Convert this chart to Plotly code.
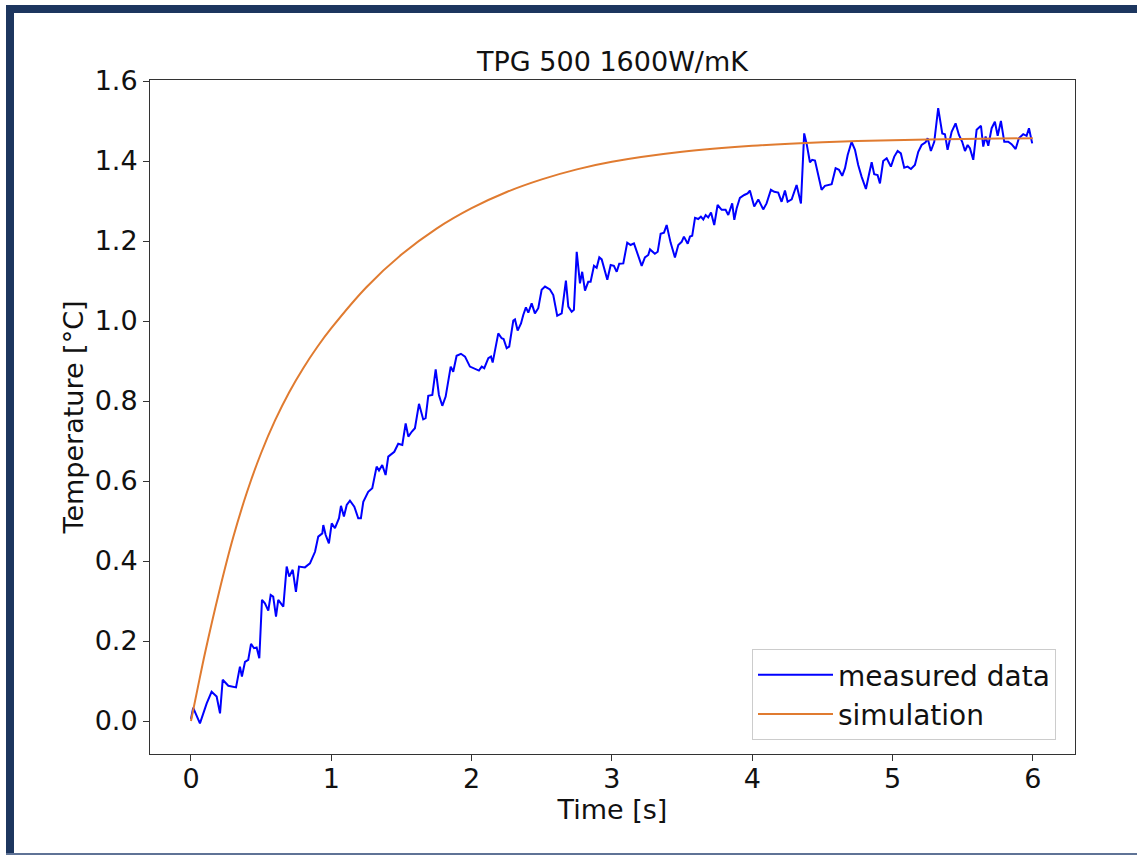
import plotly.graph_objects as go

meas_t = [0.0, 0.016, 0.064, 0.112, 0.147, 0.183, 0.207, 0.226, 0.266, 0.321, 0.349, 0.363, 0.385, 0.408,
          0.428, 0.449, 0.468, 0.487, 0.506, 0.527, 0.551, 0.568, 0.586, 0.606, 0.622, 0.658, 0.682, 0.700,
          0.725, 0.748, 0.770, 0.812, 0.848, 0.884, 0.907, 0.936, 0.943, 0.960, 0.983, 1.003, 1.026, 1.055,
          1.069, 1.090, 1.110, 1.133, 1.164, 1.192, 1.211, 1.228, 1.263, 1.292, 1.323, 1.340, 1.363, 1.387,
          1.406, 1.449, 1.477, 1.506, 1.530, 1.549, 1.573, 1.596, 1.625, 1.655, 1.672, 1.691, 1.720, 1.744,
          1.767, 1.791, 1.815, 1.851, 1.869, 1.893, 1.924, 1.953, 1.988, 2.019, 2.052, 2.072, 2.090, 2.119,
          2.138, 2.150, 2.190, 2.214, 2.228, 2.250, 2.268, 2.297, 2.309, 2.328, 2.352, 2.368, 2.387, 2.404,
          2.428, 2.451, 2.475, 2.499, 2.523, 2.558, 2.582, 2.610, 2.642, 2.672, 2.689, 2.713, 2.729, 2.749,
          2.772, 2.788, 2.808, 2.831, 2.848, 2.872, 2.891, 2.910, 2.927, 2.967, 2.991, 3.014, 3.034, 3.052,
          3.081, 3.109, 3.133, 3.157, 3.180, 3.212, 3.235, 3.259, 3.271, 3.306, 3.326, 3.347, 3.371, 3.390,
          3.418, 3.449, 3.473, 3.497, 3.513, 3.540, 3.556, 3.572, 3.592, 3.615, 3.634, 3.651, 3.668, 3.686,
          3.706, 3.729, 3.753, 3.782, 3.810, 3.829, 3.857, 3.872, 3.889, 3.912, 3.943, 3.967, 3.983, 4.014,
          4.043, 4.062, 4.078, 4.102, 4.133, 4.157, 4.185, 4.209, 4.233, 4.252, 4.281, 4.316, 4.347, 4.370,
          4.387, 4.411, 4.427, 4.447, 4.470, 4.494, 4.518, 4.546, 4.566, 4.594, 4.618, 4.641, 4.661, 4.680,
          4.708, 4.732, 4.755, 4.779, 4.810, 4.831, 4.851, 4.869, 4.893, 4.910, 4.933, 4.958, 4.988, 5.012,
          5.036, 5.059, 5.083, 5.107, 5.131, 5.159, 5.183, 5.207, 5.235, 5.250, 5.273, 5.297, 5.325, 5.354,
          5.373, 5.392, 5.421, 5.449, 5.473, 5.496, 5.516, 5.535, 5.551, 5.575, 5.599, 5.630, 5.646, 5.663,
          5.682, 5.706, 5.729, 5.749, 5.772, 5.796, 5.824, 5.848, 5.877, 5.900, 5.931, 5.955, 5.972, 5.995]
meas_T = [0.005, 0.033, -0.006, 0.044, 0.073, 0.061, 0.019, 0.103, 0.088, 0.084, 0.136, 0.111, 0.148, 0.153,
          0.193, 0.182, 0.184, 0.157, 0.303, 0.294, 0.276, 0.315, 0.311, 0.261, 0.303, 0.286, 0.386, 0.361,
          0.378, 0.323, 0.386, 0.384, 0.394, 0.423, 0.461, 0.469, 0.490, 0.465, 0.444, 0.494, 0.482, 0.507,
          0.538, 0.511, 0.540, 0.551, 0.536, 0.507, 0.507, 0.548, 0.573, 0.582, 0.636, 0.626, 0.640, 0.615,
          0.661, 0.673, 0.693, 0.690, 0.744, 0.711, 0.723, 0.732, 0.793, 0.754, 0.757, 0.813, 0.815, 0.879,
          0.815, 0.788, 0.811, 0.886, 0.873, 0.913, 0.918, 0.911, 0.886, 0.882, 0.876, 0.886, 0.882, 0.907,
          0.911, 0.896, 0.969, 0.957, 0.955, 0.932, 0.936, 1.001, 1.004, 0.976, 0.994, 1.015, 1.034, 1.021,
          1.044, 1.019, 1.032, 1.078, 1.086, 1.079, 1.065, 1.013, 1.019, 1.101, 1.036, 1.023, 1.028, 1.173,
          1.094, 1.123, 1.076, 1.098, 1.098, 1.138, 1.133, 1.159, 1.154, 1.103, 1.140, 1.138, 1.123, 1.143,
          1.144, 1.196, 1.190, 1.194, 1.169, 1.138, 1.159, 1.165, 1.179, 1.168, 1.173, 1.218, 1.221, 1.240,
          1.196, 1.159, 1.190, 1.198, 1.211, 1.193, 1.211, 1.213, 1.258, 1.255, 1.261, 1.254, 1.265, 1.259,
          1.271, 1.240, 1.290, 1.278, 1.278, 1.265, 1.294, 1.253, 1.282, 1.308, 1.315, 1.319, 1.326, 1.286,
          1.304, 1.288, 1.279, 1.294, 1.328, 1.323, 1.321, 1.298, 1.326, 1.298, 1.304, 1.340, 1.294, 1.469,
          1.444, 1.397, 1.403, 1.401, 1.365, 1.328, 1.338, 1.340, 1.342, 1.382, 1.378, 1.363, 1.382, 1.415,
          1.448, 1.428, 1.390, 1.361, 1.330, 1.365, 1.397, 1.367, 1.365, 1.344, 1.400, 1.407, 1.386, 1.411,
          1.425, 1.419, 1.383, 1.386, 1.380, 1.390, 1.423, 1.440, 1.447, 1.457, 1.425, 1.448, 1.532, 1.469,
          1.467, 1.428, 1.473, 1.494, 1.465, 1.448, 1.425, 1.440, 1.432, 1.403, 1.478, 1.488, 1.436, 1.461,
          1.438, 1.482, 1.498, 1.463, 1.500, 1.448, 1.448, 1.442, 1.430, 1.457, 1.467, 1.463, 1.482, 1.444]

# simulation curve
sim_t = [0.0, 0.05, 0.1, 0.2, 0.3, 0.4, 0.5, 0.6, 0.7, 0.8, 0.9, 1.0, 1.25, 1.5, 1.75,
         2.0, 2.25, 2.5, 2.75, 3.0, 3.5, 4.0, 4.5, 5.0, 5.5, 6.0]
sim_T = [0.0, 0.086, 0.170, 0.322, 0.458, 0.573, 0.670, 0.752, 0.822, 0.882, 0.935, 0.982, 1.0845, 1.166, 1.231,
         1.282, 1.3225, 1.354, 1.379, 1.398, 1.423, 1.438, 1.447, 1.452, 1.455, 1.457]

x_ticks = [0, 1, 2, 3, 4, 5, 6]
y_ticks = [0.0, 0.2, 0.4, 0.6, 0.8, 1.0, 1.2, 1.4, 1.6]

FONT = "DejaVu Sans"
NAVY = "#1d365f"
FS = 27

fig = go.Figure()
fig.add_trace(go.Scatter(x=meas_t, y=meas_T, mode="lines", name="measured data",
                         line=dict(color="#0000ff", width=2)))
fig.add_trace(go.Scatter(x=sim_t, y=sim_T, mode="lines", name="simulation",
                         line=dict(color="#e07b30", width=2, shape="spline", smoothing=0.8)))

W, H = 1137, 855
L, R, T, B = 150, 62, 80, 101
pw, ph = W - L - R, H - T - B


def px(x):
    return (x - L) / pw


def py(y):
    return (H - B - y) / ph


shapes = [
    # dark frame of the slide: left bar, top bar, bottom thin line
    dict(type="rect", xref="paper", yref="paper", x0=px(6), x1=px(14), y0=py(856), y1=py(5),
         fillcolor=NAVY, line=dict(width=0), layer="above"),
    dict(type="rect", xref="paper", yref="paper", x0=px(6), x1=px(1138), y0=py(13), y1=py(5),
         fillcolor=NAVY, line=dict(width=0), layer="above"),
    dict(type="rect", xref="paper", yref="paper", x0=px(6), x1=px(1138), y0=py(856), y1=py(853),
         fillcolor="#5f7396", line=dict(width=0), layer="above"),
]

axis_common = dict(showgrid=False, zeroline=False, showline=True, linecolor="#333333", linewidth=1,
                   mirror=True, ticks="outside", ticklen=6, tickcolor="#333333",
                   tickfont=dict(family=FONT, size=FS, color="#111111"))

fig.update_layout(
    width=W, height=H,
    margin=dict(l=L, r=R, t=T, b=B),
    paper_bgcolor="white", plot_bgcolor="white",
    font=dict(family=FONT, color="#111111"),
    title=dict(text="TPG 500 1600W/mK", x=(L + pw / 2) / W, xanchor="center",
               y=1 - 62 / H, yanchor="middle", font=dict(family=FONT, size=FS, color="#111111")),
    xaxis=dict(range=[-0.292, 6.30], tickvals=x_ticks, ticktext=[str(v) for v in x_ticks],
               ticklabelstandoff=-5,
               title=dict(text="Time [s]", standoff=0, font=dict(family=FONT, size=FS)),
               **axis_common),
    yaxis=dict(range=[-0.0825, 1.6025], tickvals=y_ticks, ticktext=[f"{v:.1f}" for v in y_ticks],
               title=dict(text="Temperature [°C]", standoff=3, font=dict(family=FONT, size=FS)),
               **axis_common),
    legend=dict(x=px(752), xanchor="left", y=py(740), yanchor="bottom",
                bgcolor="white", bordercolor="#cccccc", borderwidth=1, itemwidth=75,
                font=dict(family=FONT, size=28, color="#111111")),
    shapes=shapes,
)

fig.write_html("out.html")
